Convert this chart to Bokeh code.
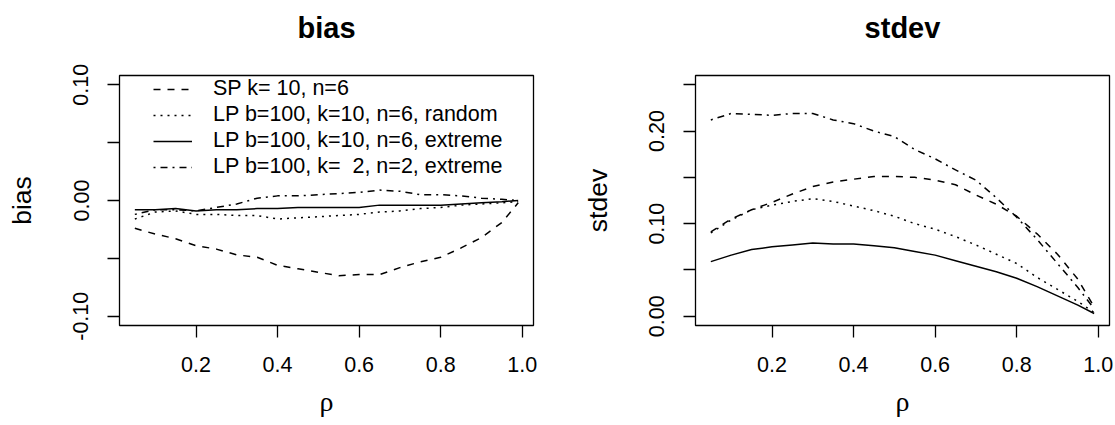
from bokeh.plotting import figure
from bokeh.layouts import row
from bokeh.models import (Range1d, FixedTicker, NumeralTickFormatter, Legend,
                          LegendItem, LinearAxis)
from bokeh.embed import file_html
from bokeh.resources import INLINE

# correlation grid
rho = [0.05, 0.10, 0.15, 0.20, 0.25, 0.30, 0.35, 0.40, 0.45, 0.50,
       0.55, 0.60, 0.65, 0.70, 0.75, 0.80, 0.85, 0.90, 0.95, 0.99]

# bias of each estimator
bias_sp = [-0.024, -0.029, -0.033, -0.039, -0.042, -0.047, -0.049, -0.056, -0.059, -0.062,
           -0.065, -0.064, -0.064, -0.058, -0.053, -0.049, -0.041, -0.032, -0.019, -0.002]
bias_lp_random = [-0.016, -0.010, -0.009, -0.012, -0.012, -0.013, -0.013, -0.016, -0.015, -0.014,
                  -0.013, -0.012, -0.010, -0.009, -0.007, -0.006, -0.004, -0.003, -0.002, -0.001]
bias_lp_extreme = [-0.008, -0.008, -0.007, -0.009, -0.008, -0.008, -0.007, -0.007, -0.006, -0.006,
                   -0.006, -0.006, -0.004, -0.004, -0.004, -0.004, -0.003, -0.002, -0.001, 0.000]
bias_lp_k2 = [-0.012, -0.008, -0.008, -0.009, -0.006, -0.003, 0.002, 0.004, 0.004, 0.005,
              0.006, 0.007, 0.009, 0.008, 0.005, 0.005, 0.004, 0.002, 0.001, 0.000]

# standard deviation of each estimator
sd_sp = [0.091, 0.105, 0.115, 0.123, 0.132, 0.140, 0.145, 0.148, 0.151, 0.151,
         0.150, 0.147, 0.142, 0.131, 0.121, 0.108, 0.089, 0.067, 0.040, 0.010]
sd_lp_random = [0.090, 0.104, 0.115, 0.120, 0.124, 0.127, 0.124, 0.119, 0.114, 0.108,
                0.100, 0.094, 0.086, 0.077, 0.067, 0.057, 0.042, 0.029, 0.016, 0.004]
sd_lp_extreme = [0.059, 0.066, 0.072, 0.075, 0.077, 0.079, 0.078, 0.078, 0.076, 0.074,
                 0.070, 0.066, 0.060, 0.054, 0.048, 0.041, 0.032, 0.022, 0.012, 0.003]
sd_lp_k2 = [0.212, 0.219, 0.218, 0.217, 0.219, 0.219, 0.212, 0.208, 0.200, 0.194,
            0.180, 0.170, 0.158, 0.147, 0.128, 0.107, 0.083, 0.057, 0.031, 0.008]

labels = ["SP k= 10, n=6",
          "LP b=100, k=10, n=6, random",
          "LP b=100, k=10, n=6, extreme",
          "LP b=100, k=  2, n=2, extreme"]
dashes = ["7 7", "2 5", "solid", "2 5 7 5"]

x_ticks = [0.2, 0.4, 0.6, 0.8, 1.0]

SANS = "Liberation Sans"


def r_panel(title, ylabel, y_min, y_max, major, minor, width, right_border):
    pad_x = 0.04 * (rho[-1] - rho[0])
    pad_y = 0.04 * (y_max - y_min)
    p = figure(width=width, height=425, output_backend="svg", toolbar_location=None,
               x_range=Range1d(rho[0] - pad_x, rho[-1] + pad_x),
               y_range=Range1d(y_min - pad_y, y_max + pad_y),
               min_border_left=119, min_border_right=right_border,
               min_border_top=75, min_border_bottom=100)
    p.grid.visible = False
    p.outline_line_color = "black"
    p.outline_line_width = 1.3
    p.outline_line_alpha = 1.0
    p.background_fill_color = "white"
    p.border_fill_color = "white"

    xa = p.below[0]
    xa.ticker = FixedTicker(ticks=x_ticks)
    xa.formatter = NumeralTickFormatter(format="0.0")
    xa.axis_line_color = None
    xa.major_tick_out = 12
    xa.major_tick_in = 0
    xa.minor_tick_out = 0
    xa.major_tick_line_color = "black"
    xa.major_tick_line_width = 1.3
    xa.major_label_text_font = SANS
    xa.major_label_text_font_size = "21.5px"
    xa.major_label_text_color = "black"
    xa.major_label_standoff = 19
    xa.axis_label = "ρ"
    xa.axis_label_text_font = "Liberation Serif"
    xa.axis_label_text_font_style = "normal"
    xa.axis_label_text_font_size = "28px"
    xa.axis_label_text_color = "black"
    xa.axis_label_standoff = 11

    ya = p.left[0]
    ya.ticker = FixedTicker(ticks=major, minor_ticks=minor)
    ya.formatter = NumeralTickFormatter(format="0.00")
    ya.axis_line_color = None
    ya.major_tick_out = 12
    ya.major_tick_in = 0
    ya.minor_tick_out = 12
    ya.minor_tick_in = 0
    ya.major_tick_line_color = "black"
    ya.minor_tick_line_color = "black"
    ya.major_tick_line_width = 1.3
    ya.minor_tick_line_width = 1.3
    ya.major_label_orientation = "vertical"
    ya.major_label_text_font = SANS
    ya.major_label_text_font_size = "21.5px"
    ya.major_label_text_color = "black"
    ya.major_label_standoff = 19
    ya.axis_label = ylabel
    ya.axis_label_text_font = SANS
    ya.axis_label_text_font_style = "normal"
    ya.axis_label_text_font_size = "26.5px"
    ya.axis_label_text_color = "black"
    ya.axis_label_standoff = 34

    # main title: a tick-less axis above the box whose label is the heading
    head = LinearAxis(ticker=FixedTicker(ticks=[]), axis_line_color=None,
                      major_tick_line_color=None, minor_tick_line_color=None,
                      major_tick_out=0, minor_tick_out=0, major_label_standoff=0,
                      major_label_text_font_size="0px",
                      axis_label=title, axis_label_standoff=32,
                      axis_label_text_font=SANS, axis_label_text_font_style="bold",
                      axis_label_text_font_size="29px", axis_label_text_color="black")
    p.add_layout(head, "above")
    return p


def add_lines(p, series):
    rends = []
    for ys, dash in zip(series, dashes):
        r = p.line(rho, ys, line_color="black", line_width=1.5, line_dash=dash)
        rends.append(r)
    return rends


p1 = r_panel("bias", "bias", -0.10, 0.10, [-0.10, 0.0, 0.10], [-0.05, 0.05], 576, 43)
r1 = add_lines(p1, [bias_sp, bias_lp_random, bias_lp_extreme, bias_lp_k2])

legend = Legend(items=[LegendItem(label=lab, renderers=[r]) for lab, r in zip(labels, r1)],
                location=(34, 146), orientation="vertical",
                border_line_color=None, background_fill_alpha=0.0,
                padding=0, margin=0, spacing=1,
                glyph_width=39, glyph_height=24, label_height=24,
                label_standoff=21,
                label_text_font=SANS, label_text_font_size="21.5px",
                label_text_color="black")
p1.add_layout(legend)

p2 = r_panel("stdev", "stdev", 0.0, 0.25, [0.0, 0.10, 0.20], [0.05, 0.15, 0.25], 539, 6)
add_lines(p2, [sd_sp, sd_lp_random, sd_lp_extreme, sd_lp_k2])

layout = row(p1, p2)
open("out.html", "w").write(file_html(layout, INLINE))
